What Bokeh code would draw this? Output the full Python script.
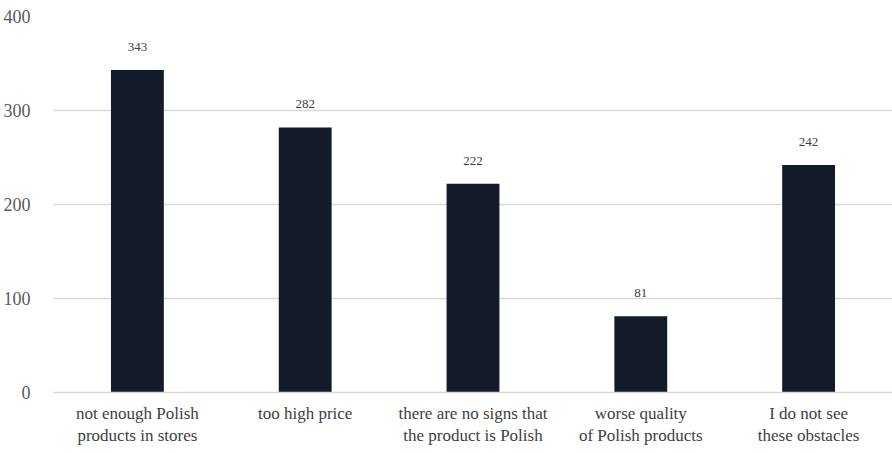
from bokeh.plotting import figure
from bokeh.models import ColumnDataSource, FixedTicker, Range1d
from bokeh.embed import file_html
from bokeh.resources import INLINE
from bokeh.core.properties import value

categories = ["not enough Polish\nproducts in stores", "too high price",
              "there are no signs that\nthe product is Polish",
              "worse quality\nof Polish products", "I do not see\nthese obstacles"]
counts = [343, 282, 222, 81, 242]
y_ticks = [0, 100, 200, 300, 400]

FONT = "'Liberation Serif', serif"

src = ColumnDataSource(dict(cat=categories, val=counts, lab=[str(v) for v in counts]))

p = figure(x_range=categories, y_range=Range1d(0, 400), width=892, height=453,
           output_backend="svg", toolbar_location=None,
           min_border_left=53, min_border_right=0, min_border_top=16, min_border_bottom=61)
p.outline_line_color = None
p.vbar(x="cat", top="val", width=0.315, source=src, fill_color="#131a2a", line_color=None)
p.text(x="cat", y="val", text="lab", source=src, text_align="center", text_baseline="middle",
       y_offset=-23, text_font=value(FONT), text_font_size="13px", text_color="#404040")

p.xgrid.grid_line_color = None
p.ygrid.grid_line_color = "#d9d9d9"
p.ygrid.grid_line_width = 1.3
p.yaxis.ticker = FixedTicker(ticks=y_ticks)
p.yaxis.axis_line_color = None
p.yaxis.major_tick_line_color = None
p.yaxis.minor_tick_line_color = None
p.yaxis.major_label_text_font = FONT
p.yaxis.major_label_text_font_size = "18px"
p.yaxis.major_label_text_color = "#595959"
p.yaxis.major_label_standoff = 17

p.xaxis.axis_line_color = "#d9d9d9"
p.xaxis.axis_line_width = 1.3
p.xaxis.major_tick_line_color = None
p.xaxis.minor_tick_line_color = None
p.xaxis.major_label_text_font = FONT
p.xaxis.major_label_text_font_size = "17px"
p.xaxis.major_label_text_color = "#404040"
p.xaxis.major_label_standoff = 5

open("out.html", "w").write(file_html(p, INLINE))
